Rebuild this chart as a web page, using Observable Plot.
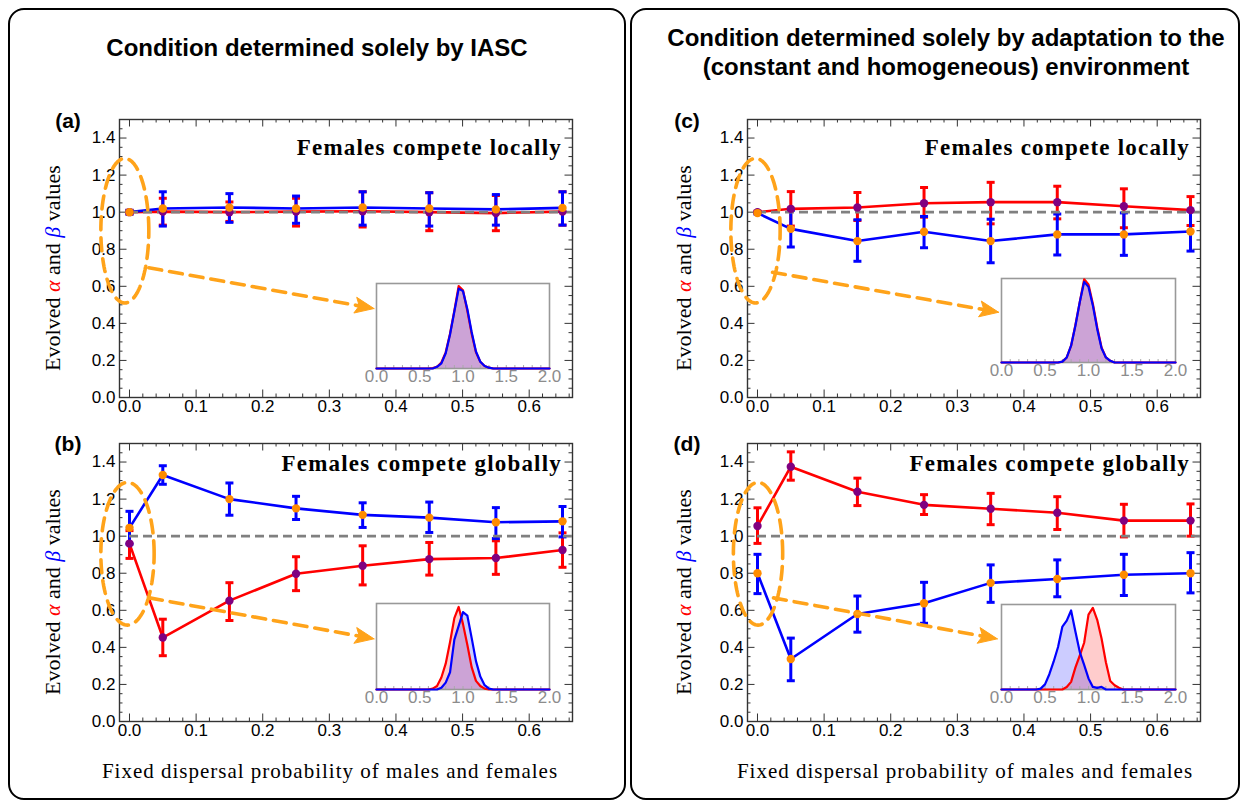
<!DOCTYPE html>
<html><head><meta charset="utf-8">
<script src="https://cdn.jsdelivr.net/npm/d3@7"></script>
<script src="https://cdn.jsdelivr.net/npm/@observablehq/plot@0.6"></script>
<style>
body{margin:0;background:#fff;}
#root{position:relative;width:1244px;height:806px;overflow:hidden;font-family:"Liberation Sans",Arial,sans-serif;color:#000;}
.box{position:absolute;border:2px solid #000;border-radius:16px;box-sizing:border-box;}
.abs{position:absolute;white-space:nowrap;}
.c{transform:translate(-50%,-50%);}
.title{font-weight:bold;font-size:24px;}
.plab{font-weight:bold;font-size:21px;}
.ylab{font-family:"Liberation Serif",serif;font-size:22px;transform:translate(-50%,-50%) rotate(-90deg);}
.xlab{font-family:"Liberation Serif",serif;font-size:21px;letter-spacing:1px;}
.note{font-family:"Liberation Serif",serif;font-weight:bold;font-size:23px;letter-spacing:1.2px;transform:translate(-100%,-50%);}
.ga{color:#ff0000;font-style:italic;}
.gb{color:#0000ff;font-style:italic;}
</style></head><body><div id="root"></div>
<script>
// ---- data ----
const dispersal = [0, 0.05, 0.15, 0.25, 0.35, 0.45, 0.55, 0.65];
const xTickLabels = [0, 0.1, 0.2, 0.3, 0.4, 0.5, 0.6];
const yTickLabels = [0, 0.2, 0.4, 0.6, 0.8, 1.0, 1.2, 1.4];
const insetTickLabels = [0, 0.5, 1.0, 1.5, 2.0];

// (a) IASC, females compete locally
const aAlpha   = [1.0, 1.003, 1.0, 1.003, 1.005, 1.0, 0.995, 1.003];
const aAlphaLo = [0.99, 0.93, 0.95, 0.925, 0.92, 0.90, 0.90, 0.93];
const aAlphaHi = [1.01, 1.075, 1.055, 1.075, 1.11, 1.105, 1.09, 1.11];
const aBeta    = [1.0, 1.02, 1.025, 1.02, 1.025, 1.02, 1.015, 1.023];
const aBetaLo  = [0.99, 0.925, 0.945, 0.94, 0.93, 0.925, 0.93, 0.93];
const aBetaHi  = [1.01, 1.11, 1.10, 1.087, 1.11, 1.105, 1.095, 1.11];
// (b) IASC, females compete globally
const bAlpha   = [0.96, 0.453, 0.652, 0.797, 0.84, 0.876, 0.882, 0.925];
const bAlphaLo = [0.88, 0.355, 0.545, 0.706, 0.737, 0.79, 0.794, 0.832];
const bAlphaHi = [1.03, 0.552, 0.749, 0.889, 0.948, 0.966, 0.975, 1.018];
const bBeta    = [1.045, 1.33, 1.20, 1.15, 1.115, 1.10, 1.075, 1.08];
const bBetaLo  = [0.957, 1.28, 1.113, 1.09, 1.047, 1.02, 0.987, 0.996];
const bBetaHi  = [1.134, 1.38, 1.287, 1.215, 1.18, 1.184, 1.154, 1.16];
// (c) adaptation, females compete locally
const cAlpha   = [1.0, 1.018, 1.025, 1.048, 1.054, 1.054, 1.032, 1.011];
const cAlphaLo = [0.995, 0.925, 0.955, 0.973, 0.937, 0.964, 0.916, 0.928];
const cAlphaHi = [1.005, 1.111, 1.106, 1.133, 1.161, 1.14, 1.126, 1.084];
const cBeta    = [0.995, 0.91, 0.844, 0.894, 0.844, 0.88, 0.88, 0.896];
const cBetaLo  = [0.99, 0.812, 0.735, 0.808, 0.727, 0.769, 0.767, 0.79];
const cBetaHi  = [1.0, 1.01, 0.959, 0.977, 0.962, 0.99, 0.996, 1.005];
// (d) adaptation, females compete globally
const dAlpha   = [1.055, 1.375, 1.24, 1.169, 1.148, 1.126, 1.084, 1.084];
const dAlphaLo = [0.961, 1.302, 1.165, 1.117, 1.062, 1.036, 0.996, 1.0];
const dAlphaHi = [1.153, 1.455, 1.313, 1.224, 1.231, 1.213, 1.172, 1.174];
const dBeta    = [0.80, 0.337, 0.58, 0.638, 0.748, 0.769, 0.792, 0.80];
const dBetaLo  = [0.69, 0.22, 0.482, 0.53, 0.643, 0.673, 0.68, 0.694];
const dBetaHi  = [0.902, 0.45, 0.677, 0.751, 0.845, 0.872, 0.902, 0.911];

// inset distributions at x = 0, 0.05, ..., 2.0 (alpha = red, beta = blue)
const insetBins = d3.range(41).map(i => i * 0.05);
const aDistAlpha = [0,0,0,0,0,0,0,0,0,0,0,0,0, 0.005,0.02,0.07,0.19,0.41,0.68,0.97,0.92,0.68,0.41,0.19,0.08,0.03,0.01, 0,0,0,0,0,0,0,0,0,0,0,0,0,0];
const aDistBeta  = [0,0,0,0,0,0,0,0,0,0,0,0,0, 0,0.02,0.06,0.18,0.40,0.67,0.94,0.91,0.70,0.43,0.20,0.08,0.03,0.01, 0,0,0,0,0,0,0,0,0,0,0,0,0,0];
const bDistAlpha = [0,0,0,0,0,0,0,0,0,0,0,0,0, 0.01,0.04,0.14,0.30,0.55,0.83,0.96,0.76,0.52,0.26,0.10,0.04,0.01, 0,0,0,0,0,0,0,0,0,0,0,0,0,0,0];
const bDistBeta  = [0,0,0,0,0,0,0,0,0,0,0,0,0,0,0, 0.02,0.08,0.20,0.58,0.74,0.90,0.86,0.60,0.33,0.15,0.05,0.01, 0,0,0,0,0,0,0,0,0,0,0,0,0,0];
const cDistAlpha = [0,0,0,0,0,0,0,0,0,0,0,0,0, 0,0.01,0.06,0.20,0.45,0.72,0.99,0.93,0.70,0.42,0.18,0.06,0.02, 0,0,0,0,0,0,0,0,0,0,0,0,0,0,0];
const cDistBeta  = [0,0,0,0,0,0,0,0,0,0,0,0,0, 0,0.01,0.06,0.20,0.44,0.72,0.96,0.90,0.68,0.40,0.17,0.06,0.02, 0,0,0,0,0,0,0,0,0,0,0,0,0,0,0];
const dDistAlpha = [0,0,0,0,0,0,0,0,0,0,0,0,0,0, 0,0.03,0.09,0.26,0.40,0.55,0.88,0.96,0.82,0.60,0.32,0.10,0.05,0.02, 0,0,0,0,0,0,0,0,0,0,0,0,0];
const dDistBeta  = [0,0,0,0,0,0,0,0, 0,0.01,0.06,0.18,0.33,0.50,0.74,0.81,0.93,0.68,0.44,0.29,0.13,0.03,0.02,0.03, 0,0,0,0,0,0,0,0,0,0,0,0,0,0,0,0,0];

const titleLeft = "Condition determined solely by IASC";
const titleRight1 = "Condition determined solely by adaptation to the";
const titleRight2 = "(constant and homogeneous) environment";
const noteLocal = "Females compete locally";
const noteGlobal = "Females compete globally";
const xLabel = "Fixed dispersal probability of males and females";

// ---- styling / layout ----
const RED = "#ff0000", BLUE = "#0000ff", PURPLE = "#800080", ORANGE = "#ff8c00", ANNO = "#ffa31a";
const XD = [-0.015, 0.665], YD = [0, 1.5];
const FW = 453, FH = 278, ML = 70, MR = 12, MT = 8, MB = 30;
const root = document.getElementById("root");

function place(el, left, top) {
  el.style.position = "absolute"; el.style.left = left + "px"; el.style.top = top + "px";
  root.appendChild(el);
}
function html(cls, text, x, y, inner) {
  const d = document.createElement("div");
  d.className = "abs " + cls;
  if (inner) d.innerHTML = text; else d.textContent = text;
  d.style.left = x + "px"; d.style.top = y + "px";
  root.appendChild(d);
  return d;
}

const capSymbol = {draw(ctx, size) { const r = Math.sqrt(size / Math.PI); ctx.moveTo(-r, 0); ctx.lineTo(r, 0); }};
const fmt = d3.format(".1f");

function mainPanel(cfg) {
  const rows = dispersal.map((x, i) => ({x, a: cfg.alpha[i], aLo: cfg.alphaLo[i], aHi: cfg.alphaHi[i],
    b: cfg.beta[i], bLo: cfg.betaLo[i], bHi: cfg.betaHi[i]}));
  const kx = FW / (XD[1] - XD[0]), ky = FH / (YD[1] - YD[0]);
  const e = cfg.ell;
  const ell = d3.range(121).map(k => { const t = k / 120 * 2 * Math.PI;
    return {x: e.cx + e.rx * Math.cos(t), y: e.cy + e.ry * Math.sin(t)}; });
  // arrow (pixel-space geometry converted back to data units)
  const ar = cfg.arrow;
  const px = (ar.x2 - ar.x1) * kx, py = -(ar.y2 - ar.y1) * ky;
  const L = Math.hypot(px, py), ux = px / L, uy = py / L;
  const toData = (ddx, ddy) => ({x: ar.x2 + ddx / kx, y: ar.y2 - ddy / ky});
  const headLen = 19, headHalf = 8, notch = 15;
  const head = [toData(0, 0), toData(-ux * headLen - uy * headHalf, -uy * headLen + ux * headHalf),
    toData(-ux * notch, -uy * notch), toData(-ux * headLen + uy * headHalf, -uy * headLen - ux * headHalf), toData(0, 0)];
  const shaftEnd = toData(-ux * notch, -uy * notch);

  const minorX = d3.range(0, 34).map(i => i * 0.02).filter(v => v <= XD[1] && Math.abs(v * 10 - Math.round(v * 10)) > 1e-6);
  const minorY = d3.range(0, 31).map(i => i * 0.05).filter(v => Math.abs(v * 5 - Math.round(v * 5)) > 1e-6);
  const majorY = d3.range(0, 8).map(i => i * 0.2);
  const tk = {stroke: "#333", strokeWidth: 1};
  const tx = (len) => len / ky, ty = (len) => len / kx;
  const plot = Plot.plot({
    width: FW + ML + MR, height: FH + MT + MB,
    marginLeft: ML, marginRight: MR, marginTop: MT, marginBottom: MB,
    x: {domain: XD, axis: null}, y: {domain: YD, axis: null},
    style: {fontFamily: "Liberation Sans, Arial, sans-serif", fontSize: "17px", color: "#000", background: "transparent", overflow: "visible"},
    marks: [
      // frame ticks (inward), bottom/top/left/right
      Plot.ruleX(minorX, {x: d => d, y1: YD[0], y2: YD[0] + tx(3.5), ...tk}),
      Plot.ruleX(xTickLabels, {x: d => d, y1: YD[0], y2: YD[0] + tx(7.5), ...tk}),
      Plot.ruleX(minorX, {x: d => d, y1: YD[1], y2: YD[1] - tx(3.5), ...tk}),
      Plot.ruleX(xTickLabels, {x: d => d, y1: YD[1], y2: YD[1] - tx(7.5), ...tk}),
      Plot.ruleY(minorY, {y: d => d, x1: XD[0], x2: XD[0] + ty(3.5), ...tk}),
      Plot.ruleY(majorY, {y: d => d, x1: XD[0], x2: XD[0] + ty(7.5), ...tk}),
      Plot.ruleY(minorY, {y: d => d, x1: XD[1], x2: XD[1] - ty(3.5), ...tk}),
      Plot.ruleY(majorY, {y: d => d, x1: XD[1], x2: XD[1] - ty(7.5), ...tk}),
      Plot.text(xTickLabels, {x: d => d, frameAnchor: "bottom", dy: 14, text: d => fmt(d), fill: "#000", fontSize: 17}),
      Plot.text(yTickLabels, {y: d => d, frameAnchor: "left", dx: -4, textAnchor: "end", text: d => fmt(d), fill: "#000", fontSize: 17}),
      Plot.frame({stroke: "#333", strokeWidth: 1.4}),
      Plot.ruleX(rows, {x: "x", y1: "aLo", y2: "aHi", stroke: RED, strokeWidth: 3}),
      Plot.dot(rows, {x: "x", y: "aLo", symbol: capSymbol, r: 4, stroke: RED, strokeWidth: 3, fill: "none"}),
      Plot.dot(rows, {x: "x", y: "aHi", symbol: capSymbol, r: 4, stroke: RED, strokeWidth: 3, fill: "none"}),
      Plot.ruleX(rows, {x: "x", y1: "bLo", y2: "bHi", stroke: BLUE, strokeWidth: 3}),
      Plot.dot(rows, {x: "x", y: "bLo", symbol: capSymbol, r: 4, stroke: BLUE, strokeWidth: 3, fill: "none"}),
      Plot.dot(rows, {x: "x", y: "bHi", symbol: capSymbol, r: 4, stroke: BLUE, strokeWidth: 3, fill: "none"}),
      Plot.line(rows, {x: "x", y: "a", stroke: RED, strokeWidth: 2.6}),
      Plot.line(rows, {x: "x", y: "b", stroke: BLUE, strokeWidth: 2.6}),
      Plot.ruleY([1], {x1: 0, x2: XD[1], stroke: "#808080", strokeWidth: 2.6, strokeDasharray: "9,5"}),
      Plot.dot(rows, {x: "x", y: "a", r: 4.2, fill: PURPLE}),
      Plot.dot(rows, {x: "x", y: "b", r: 4.2, fill: ORANGE}),
      Plot.line(ell, {x: "x", y: "y", stroke: ANNO, strokeWidth: 3.6, strokeDasharray: "13,8"}),
      Plot.line([{x: ar.x1, y: ar.y1}, shaftEnd], {x: "x", y: "y", stroke: ANNO, strokeWidth: 3.6, strokeDasharray: "13,8"}),
      Plot.line(head, {x: "x", y: "y", fill: ANNO, stroke: ANNO, strokeWidth: 1})
    ]
  });
  place(plot, cfg.fx - ML, cfg.fy - MT);
  html("note", cfg.note, cfg.fx + FW - 10, cfg.fy + cfg.noteDy);
}

function insetPanel(cfg) {
  const rows = insetBins.map((x, i) => ({x, r: cfg.red[i], b: cfg.blue[i]}));
  const W = cfg.w, H = cfg.h;
  const ky = H / 1;
  const plot = Plot.plot({
    width: W + 24, height: H + 30, marginLeft: 12, marginRight: 12, marginTop: 4, marginBottom: 26,
    x: {domain: [0, 2], axis: null}, y: {domain: [0, 1], axis: null},
    style: {fontFamily: "Liberation Sans, Arial, sans-serif", fontSize: "17px", background: "transparent", overflow: "visible"},
    marks: [
      Plot.frame({fill: "white", stroke: "none"}),
      Plot.areaY(rows, {x: "x", y: "r", fill: RED, fillOpacity: 0.2}),
      Plot.areaY(rows, {x: "x", y: "b", fill: BLUE, fillOpacity: 0.2}),
      Plot.ruleX(d3.range(21).map(i => i * 0.1), {x: d => d, y1: 0, y2: 3 / ky, stroke: "#aaa"}),
      Plot.frame({stroke: "#999", strokeWidth: 1.6}),
      Plot.line(rows, {x: "x", y: "r", stroke: RED, strokeWidth: 2.2}),
      Plot.line(rows, {x: "x", y: "b", stroke: BLUE, strokeWidth: 2.2}),
      Plot.text(insetTickLabels, {x: d => d, frameAnchor: "bottom", dy: 13, text: d => fmt(d), fill: "#8c8c8c", fontSize: 17})
    ]
  });
  place(plot, cfg.x - 12, cfg.y - 4);
}

// boxes
for (const [l, w] of [[8, 618], [630, 610]]) {
  const b = document.createElement("div"); b.className = "box";
  b.style.left = l + "px"; b.style.top = "8px"; b.style.width = w + "px"; b.style.height = "792px";
  root.appendChild(b);
}

const panels = [
  {fx: 119, fy: 119, alpha: aAlpha, alphaLo: aAlphaLo, alphaHi: aAlphaHi, beta: aBeta, betaLo: aBetaLo, betaHi: aBetaHi,
   note: noteLocal, noteDy: 29, ell: {cx: -0.007, cy: 0.90, rx: 0.036, ry: 0.39}, arrow: {x1: 0.029, y1: 0.70, x2: 0.367, y2: 0.48}},
  {fx: 119, fy: 443, alpha: bAlpha, alphaLo: bAlphaLo, alphaHi: bAlphaHi, beta: bBeta, betaLo: bBetaLo, betaHi: bBetaHi,
   note: noteGlobal, noteDy: 21, ell: {cx: -0.003, cy: 0.905, rx: 0.04, ry: 0.385}, arrow: {x1: 0.03, y1: 0.667, x2: 0.367, y2: 0.446}},
  {fx: 747, fy: 119, alpha: cAlpha, alphaLo: cAlphaLo, alphaHi: cAlphaHi, beta: cBeta, betaLo: cBetaLo, betaHi: cBetaHi,
   note: noteLocal, noteDy: 29, ell: {cx: -0.003, cy: 0.90, rx: 0.037, ry: 0.39}, arrow: {x1: 0.0225, y1: 0.676, x2: 0.362, y2: 0.46}},
  {fx: 747, fy: 443, alpha: dAlpha, alphaLo: dAlphaLo, alphaHi: dAlphaHi, beta: dBeta, betaLo: dBetaLo, betaHi: dBetaHi,
   note: noteGlobal, noteDy: 21, ell: {cx: 0.0008, cy: 0.905, rx: 0.037, ry: 0.385}, arrow: {x1: 0.024, y1: 0.667, x2: 0.36, y2: 0.446}}
];
panels.forEach(mainPanel);

[
  {x: 376, y: 283, w: 173, h: 85, red: aDistAlpha, blue: aDistBeta},
  {x: 376, y: 603, w: 173, h: 86, red: bDistAlpha, blue: bDistBeta},
  {x: 1001, y: 278, w: 174, h: 84, red: cDistAlpha, blue: cDistBeta},
  {x: 1001, y: 604, w: 174, h: 85, red: dDistAlpha, blue: dDistBeta}
].forEach(insetPanel);

// text
html("title c", titleLeft, 317, 48);
html("title c", titleRight1, 946, 38);
html("title c", titleRight2, 946, 67);
html("plab c", "(a)", 68, 121); html("plab c", "(b)", 68, 444);
html("plab c", "(c)", 687, 121); html("plab c", "(d)", 687, 444);
const ylabHTML = 'Evolved <span class="ga">α</span> and <span class="gb">β</span> values';
html("ylab", ylabHTML, 53, 268, true); html("ylab", ylabHTML, 53, 592, true);
html("ylab", ylabHTML, 684, 268, true); html("ylab", ylabHTML, 684, 592, true);
html("xlab c", xLabel, 330, 771); html("xlab c", xLabel, 965, 771);
</script>
</body></html>
